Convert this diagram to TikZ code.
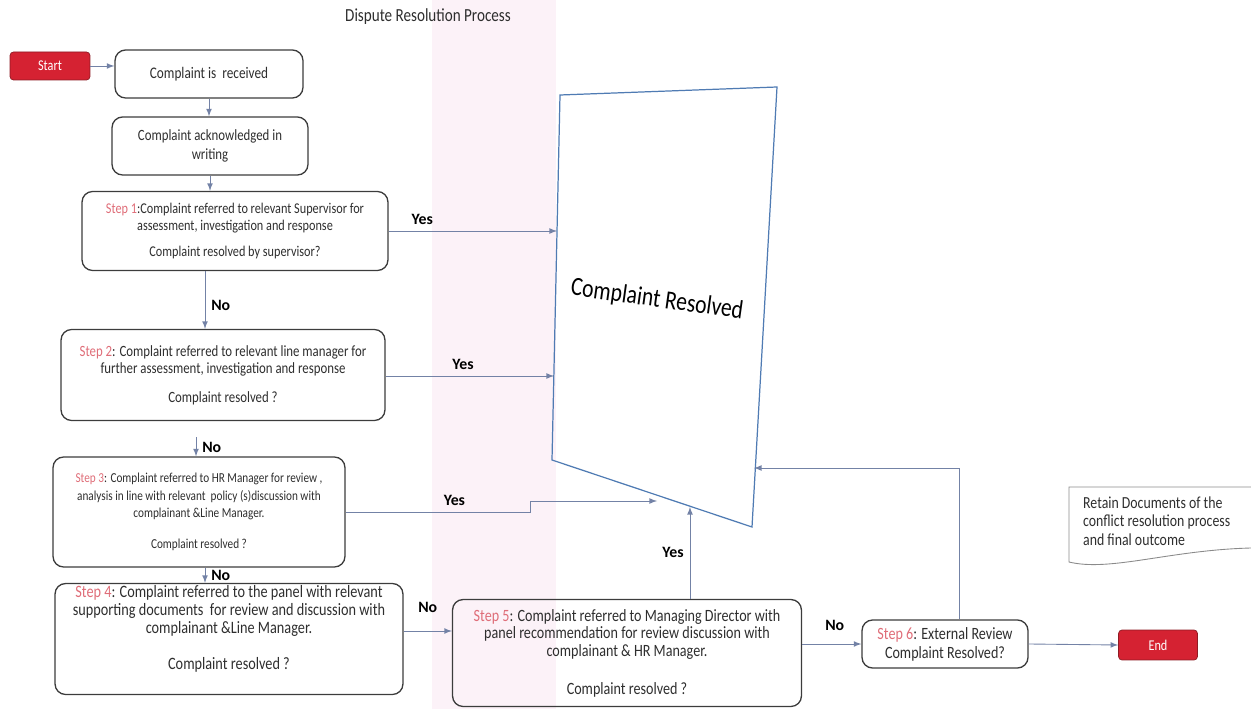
\documentclass[tikz,border=0pt]{standalone}
\usepackage{fontspec}
\setmainfont{Carlito}
\newfontfamily\narrowfont{Carlito}[FakeStretch=0.82]
\usetikzlibrary{calc}

\definecolor{boxgray}{HTML}{3C3C3C}
\definecolor{textgray}{HTML}{2E2E2E}
\definecolor{arrowblue}{HTML}{7382A6}
\definecolor{quadblue}{HTML}{4F7BB3}
\definecolor{termred}{HTML}{D52232}
\definecolor{termedge}{HTML}{8E1B24}
\definecolor{steppink}{HTML}{DF6D78}
\definecolor{bandpink}{HTML}{FCF2F8}
\definecolor{notegray}{HTML}{8A8A8A}

\newcommand{\steptag}[1]{\textcolor{steppink}{#1}}
\newcommand{\fs}[2]{\narrowfont\fontsize{#1}{#2}\selectfont}

\begin{document}
\begin{tikzpicture}[x=0.02cm, y=-0.02cm,
  box/.style={draw=boxgray, line width=0.75pt, rounded corners=6pt,
    align=center, text=textgray, inner sep=1pt},
  term/.style={draw=termedge, fill=termred, rounded corners=2pt,
    text=white, font=\fs{8.5}{10}},
  flow/.style={draw=arrowblue, line width=0.5pt, -latex},
  lbl/.style={font=\fontsize{9}{10}\selectfont\bfseries, text=black}]

  \useasboundingbox (0,0) rectangle (1251,709);
  \fill[bandpink] (432,0) rectangle (556,709);

  \node (Title) at (428,17) [text=textgray, font=\fs{10.5}{12}]
    {Dispute Resolution\ Process};

  \node (Start) at (50,66) [term, minimum width=1.6cm,
    minimum height=0.56cm] {Start};
  \node (Received) at (209,74) [box, minimum width=3.76cm,
    minimum height=0.96cm, font=\fs{9.2}{10}] {Complaint is\ \ received};
  \node (Acknowledged) at (210,146) [box, minimum width=3.92cm,
    minimum height=1.16cm, font=\fs{8.9}{10.8}]
    {Complaint acknowledged in\\writing};

  \node (Step1) at (235,231) [box, minimum width=6.12cm,
    minimum height=1.58cm, font=\fs{8.5}{9.6}]
    {\steptag{Step 1}:Complaint referred to relevant Supervisor for\\
     assessment, investigation and response\\[5pt]
     Complaint resolved by supervisor?};
  \node (Step2) at (223,375) [box, minimum width=6.48cm,
    minimum height=1.82cm, font=\fs{8.9}{10}]
    {\steptag{Step 2}: Complaint referred to relevant line manager for\\
     further assessment, investigation and response\\[6pt]
     Complaint resolved ?};
  \node (Step3) at (199,512) [box, minimum width=5.84cm,
    minimum height=2.2cm, font=\fs{7.8}{9.8}]
    {\steptag{Step 3}: Complaint referred to HR Manager for review ,\\
     analysis in line with relevant\ \ policy (s)discussion with\\
     complainant \&Line Manager.\\[8pt]
     Complaint resolved ?};
  \node (Step4) at (229,639) [box, minimum width=6.96cm,
    minimum height=2.22cm, font=\fs{9.9}{10.2}]
    {\steptag{Step 4}: Complaint referred to the panel with relevant\\
     supporting documents\ \ for review and discussion with\\
     complainant \&Line Manager.\\[10pt]
     Complaint resolved ?\\[3pt]\mbox{}};
  \node (Step5) at (627,653) [box, minimum width=6.98cm,
    minimum height=2.14cm, font=\fs{9.8}{10.2}]
    {\steptag{Step 5}: Complaint referred to Managing Director with\\
     panel recommendation for review discussion with\\
     complainant \& HR Manager.\\[11pt]
     Complaint resolved ?};
  \node (Step6) at (945,644) [box, minimum width=3.32cm,
    minimum height=0.96cm, font=\fs{9.8}{10.8}]
    {\steptag{Step 6}: External Review\\Complaint Resolved?};
  \node (End) at (1158,645) [term, minimum width=1.58cm,
    minimum height=0.6cm] {End};

  % resolved outcome
  \coordinate (QA) at (560,95);
  \coordinate (QB) at (777,87);
  \coordinate (QC) at (752,527);
  \coordinate (QD) at (552,460);
  \draw[quadblue, line width=0.7pt] (QA) -- (QB) -- (QC) -- (QD) -- cycle;
  \node (Resolved) at (657,300) [rotate=-8, text=black, font=\fs{15}{17}]
    {Complaint Resolved};

  \coordinate (InA) at (557,232);
  \coordinate (InB) at (554,376);
  \coordinate (InC) at (657,501);
  \coordinate (InD) at (754,468);
  \coordinate (StepUp) at (530,512);

  % retained documents
  \draw[notegray, line width=0.5pt] (1251,487) -- (1069,487) -- (1069,562)
    .. controls (1110,572) and (1170,550) .. (1251,548);
  \node (Retain) at (1077,521) [anchor=west, align=left, text=textgray,
    font=\fs{9.6}{10.5}]
    {Retain Documents of the\\conflict resolution\ process\\and final outcome};

  % connectors
  \draw[flow] (Start.east) -- (Start.east -| Received.west);
  \draw[flow] (Received.south) -- (Received.south |- Acknowledged.north);
  \draw[flow] (Acknowledged.south) -- (Acknowledged.south |- Step1.north);
  \draw[flow] ([xshift=-0.6cm]Step1.south) -- node[lbl, right, pos=0.6] {No}
    ([xshift=-0.6cm]Step1.south |- Step2.north);
  \draw[flow] (Step1.east) -- node[lbl, above, pos=0.2] {Yes}
    (Step1.east -| InA);
  \draw[flow] (Step2.east |- InB) -- node[lbl, above, pos=0.46] {Yes} (InB);
  \draw[flow, shorten <=0.32cm] ([xshift=-0.54cm]Step2.south)
    -- node[lbl, right, pos=0.75] {No} ([xshift=-0.54cm]Step2.south |- Step3.north);
  \draw[flow] (Step3.east) -- node[lbl, above, pos=0.59] {Yes} (StepUp)
    |- (InC);
  \draw[flow] ([xshift=0.12cm]Step3.south) -- node[lbl, right, pos=0.5] {No}
    ([xshift=0.12cm]Step3.south |- Step4.north);
  \draw[flow] ([yshift=0.16cm]Step4.east) -- node[lbl, above=7pt] {No}
    ([yshift=0.16cm]Step4.east -| Step5.west);
  \draw[flow] ([xshift=1.26cm]Step5.north) -- node[lbl, left, pos=0.5] {Yes}
    ([xshift=1.26cm]Step5.north |- 0,507);
  \draw[flow] (Step6.west -| Step5.east) -- node[lbl, above=4pt, pos=0.55] {No}
    (Step6.west);
  \draw[flow] (Step6.east) -- (End.west);
  \draw[flow] ([xshift=0.28cm]Step6.north) |- (InD);
\end{tikzpicture}
\end{document}
